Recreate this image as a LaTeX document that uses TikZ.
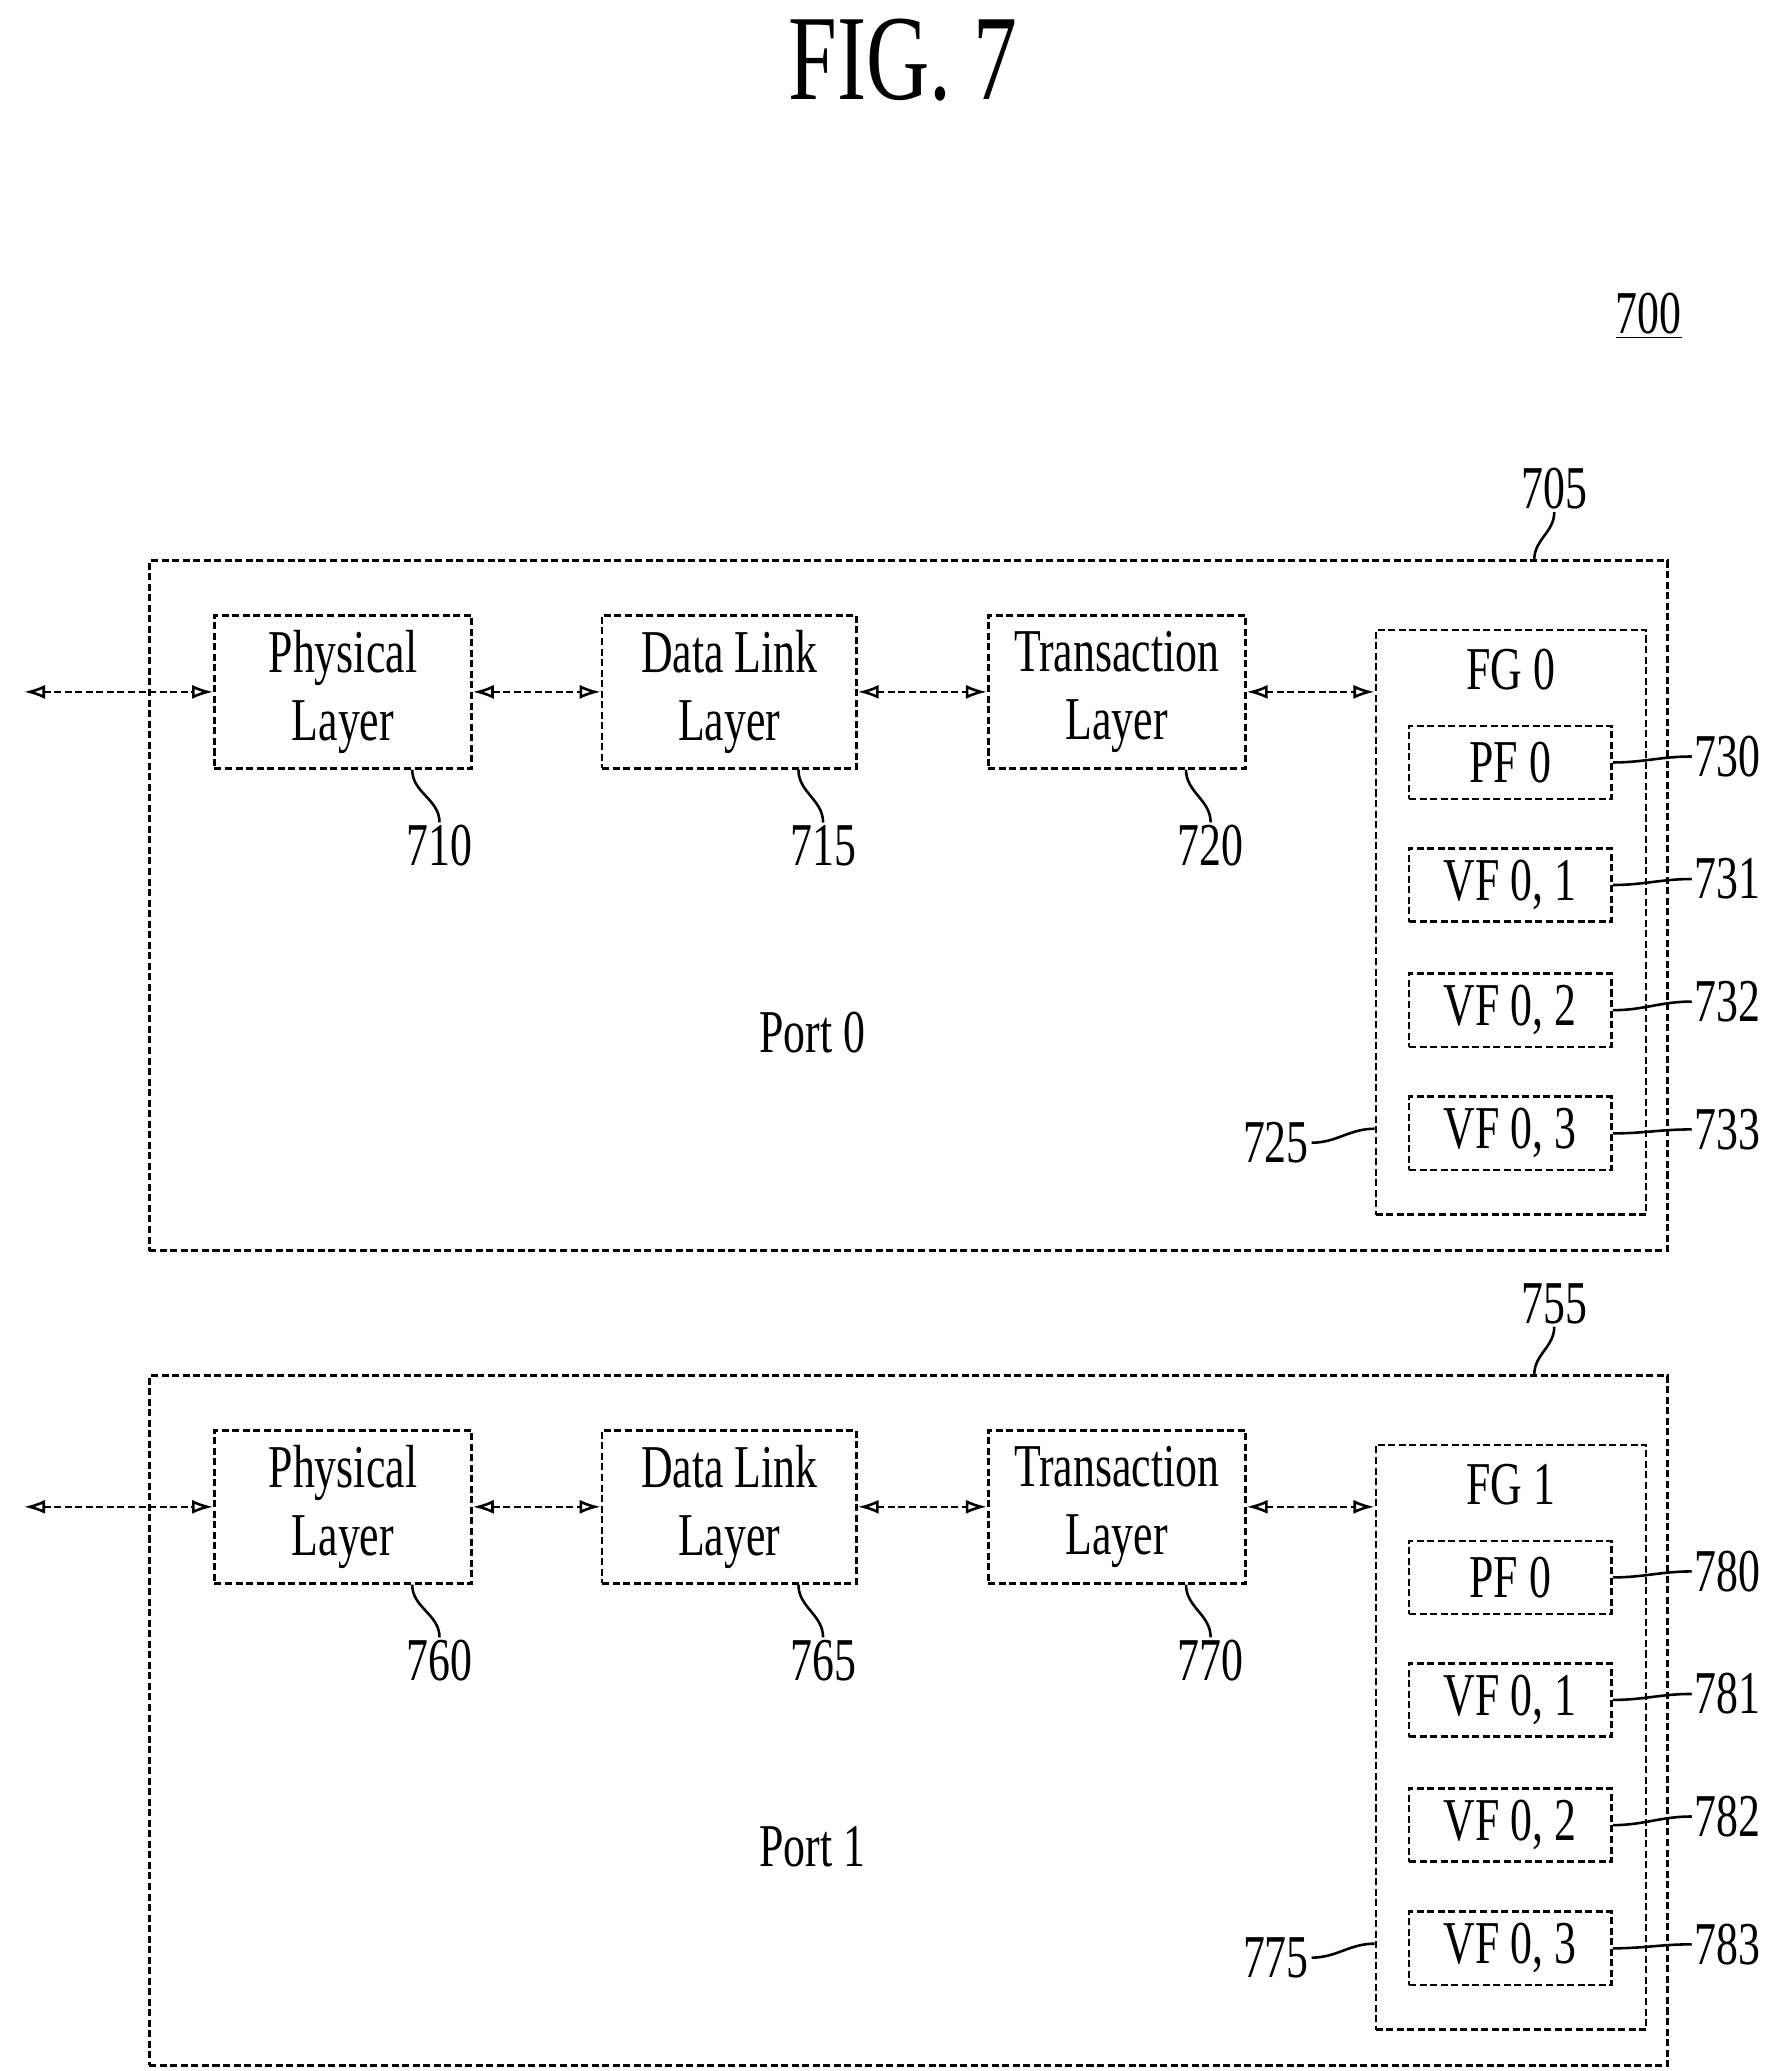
\documentclass[tikz,border=0pt]{standalone}
\usepackage{fontspec}
\setmainfont{Liberation Serif}[FakeStretch=0.72]
\usetikzlibrary{arrows.meta,calc}
\tikzset{
 dsh/.style={line width=1.1pt,dash pattern=on 3pt off 1.5pt},
 box/.style={dsh,draw,inner sep=0pt,align=center,font=\fontsize{26}{29}\selectfont},
 lbl/.style={font=\fontsize{26}{29}\selectfont,inner sep=1pt},
 arr/.style={dsh,{Latex[length=9pt,width=6pt,open]}-{Latex[length=9pt,width=6pt,open]}},
 lead/.style={line width=1.1pt}
}
\newcommand\myport[9]{%
 \begin{scope}[yshift=#1]
 \node[box,minimum width=22.8cm,minimum height=10.36cm] (out#2) at (682,680) {};
 \node[box,minimum width=3.86cm,minimum height=2.3cm] (phy#2) at (257.5,519.5) {Physical\\Layer};
 \node[box,minimum width=3.82cm,minimum height=2.3cm] (dll#2) at (547.5,519.5) {Data Link\\Layer};
 \node[box,minimum width=3.86cm,minimum height=2.3cm] (trl#2) at (838.5,519.5) {Transaction\\Layer};
 \node[box,minimum width=4.06cm,minimum height=8.78cm] (fg#2) at (1134.5,692.5) {};
 \node[lbl] at (1134.5,503) {FG #2};
 \node[box,minimum width=3.04cm,minimum height=1.1cm] (pf#2) at (1134,572.5) {PF 0};
 \node[box,minimum width=3.04cm,minimum height=1.1cm] (vfa#2) at (1134,664.5) {VF 0, 1};
 \node[box,minimum width=3.04cm,minimum height=1.1cm] (vfb#2) at (1134,758.5) {VF 0, 2};
 \node[box,minimum width=3.04cm,minimum height=1.1cm] (vfc#2) at (1134,851) {VF 0, 3};
 \node[lbl] at (610,775) {Port #2};
 \coordinate (ext#2) at (18,519.5);
 \draw[arr] (ext#2) -- (phy#2);
 \draw[arr] (phy#2) -- (dll#2);
 \draw[arr] (dll#2) -- (trl#2);
 \draw[arr] (trl#2.east) -- (trl#2.east -| fg#2.west);
 \node[lbl] (lo#2) at (1167,367) {#3};
 \draw[lead] ($(out#2.north)+(470,0)$) to[out=90,in=-90] (lo#2.south);
 \node[lbl] (la#2) at (330,635) {#4};
 \draw[lead] ($(phy#2.south)+(52,0)$) to[out=-90,in=90] (la#2.north);
 \node[lbl] (lb#2) at (618,635) {#5};
 \draw[lead] ($(dll#2.south)+(52,0)$) to[out=-90,in=90] (lb#2.north);
 \node[lbl] (lc#2) at (909,635) {#6};
 \draw[lead] ($(trl#2.south)+(52,0)$) to[out=-90,in=90] (lc#2.north);
 \node[lbl] (lf#2) at (958,858) {#7};
 \draw[lead] (lf#2.east) to[out=0,in=180] ($(fg#2.west)+(0,155)$);
 \node[lbl] (lp#2) at (1297,568) {#8};
 \draw[lead] (pf#2.east) to[out=0,in=180] (lp#2.west);
 \node[lbl] (lq#2) at (1297,660) {#91};
 \draw[lead] (vfa#2.east) to[out=0,in=180] (lq#2.west);
 \node[lbl] (lr#2) at (1297,752) {#92};
 \draw[lead] (vfb#2.east) to[out=0,in=180] (lr#2.west);
 \node[lbl] (ls#2) at (1297,848) {#93};
 \draw[lead] (vfc#2.east) to[out=0,in=180] (ls#2.west);
 \end{scope}}
\begin{document}
\begin{tikzpicture}[x=0.02cm,y=-0.02cm]
\useasboundingbox (0,0) rectangle (1325,1555);
\node[font=\fontsize{52}{56}\selectfont] (title) at (678,45) {FIG. 7};
\node[lbl] (n700) at (1238,237) {\underline{700}};
\myport{0}{0}{705}{710}{715}{720}{725}{730}{73}
\myport{-12.24cm}{1}{755}{760}{765}{770}{775}{780}{78}
\end{tikzpicture}
\end{document}
